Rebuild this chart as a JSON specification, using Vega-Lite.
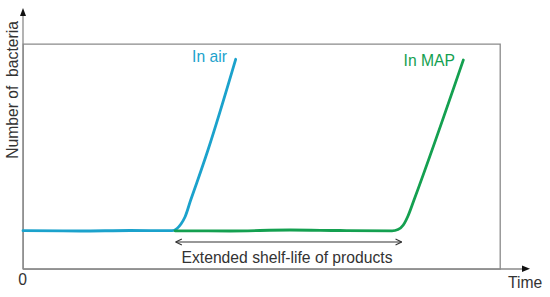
{
  "$schema": "https://vega.github.io/schema/vega-lite/v6.json",
  "width": 477,
  "height": 225,
  "autosize": {"type": "none"},
  "padding": {"left": 23, "top": 44, "right": 50, "bottom": 28},
  "background": "white",
  "config": {
    "view": {"stroke": "#8a8a8a", "strokeWidth": 1.3},
    "text": {"font": "Liberation Sans", "fontSize": 15.7}
  },
  "datasets": {
    "curves": [
      {"series": "In air", "i": 1, "t": 0, "b": 17.02},
      {"series": "In air", "i": 2, "t": 11.95, "b": 16.89},
      {"series": "In air", "i": 3, "t": 22.43, "b": 17.11},
      {"series": "In air", "i": 4, "t": 31.24, "b": 17.02},
      {"series": "In air", "i": 5, "t": 32.29, "b": 18.0},
      {"series": "In air", "i": 6, "t": 33.12, "b": 20.0},
      {"series": "In air", "i": 7, "t": 33.96, "b": 23.11},
      {"series": "In air", "i": 8, "t": 35.16, "b": 30.67},
      {"series": "In air", "i": 9, "t": 36.42, "b": 38.22},
      {"series": "In air", "i": 10, "t": 38.78, "b": 52.89},
      {"series": "In air", "i": 11, "t": 44.59, "b": 93.2},
      {"series": "In MAP", "i": 1, "t": 31.87, "b": 16.98},
      {"series": "In MAP", "i": 2, "t": 43.4, "b": 16.89},
      {"series": "In MAP", "i": 3, "t": 55.97, "b": 17.33},
      {"series": "In MAP", "i": 4, "t": 66.46, "b": 17.11},
      {"series": "In MAP", "i": 5, "t": 77.36, "b": 16.98},
      {"series": "In MAP", "i": 6, "t": 78.62, "b": 17.56},
      {"series": "In MAP", "i": 7, "t": 79.73, "b": 19.56},
      {"series": "In MAP", "i": 8, "t": 80.71, "b": 23.56},
      {"series": "In MAP", "i": 9, "t": 81.97, "b": 30.67},
      {"series": "In MAP", "i": 10, "t": 92.31, "b": 92.89}
    ]
  },
  "layer": [
    {
      "data": {"values": [
        {"t": 0, "b": 0, "t2": 0, "b2": 113.5},
        {"t": 0, "b": 0, "t2": 104.9, "b2": 0}
      ]},
      "mark": {"type": "rule", "color": "#8a8a8a", "strokeWidth": 1.3},
      "encoding": {
        "x": {"field": "t", "type": "quantitative", "scale": {"domain": [0, 100], "nice": false, "zero": false}, "axis": null},
        "y": {"field": "b", "type": "quantitative", "scale": {"domain": [0, 100], "nice": false, "zero": false}, "axis": null},
        "x2": {"field": "t2"},
        "y2": {"field": "b2"}
      }
    },
    {
      "data": {"values": [{"t": 0, "b": 114.2}]},
      "mark": {"type": "point", "shape": "M0,-1L0.75,1L-0.75,1Z", "size": 64, "filled": true, "color": "#111", "opacity": 1},
      "encoding": {
        "x": {"field": "t", "type": "quantitative"},
        "y": {"field": "b", "type": "quantitative"}
      }
    },
    {
      "data": {"values": [{"t": 105.45, "b": 0.1}]},
      "mark": {"type": "point", "shape": "M1,0L-1,-0.8L-1,0.8Z", "size": 64, "filled": true, "color": "#111", "opacity": 1},
      "encoding": {
        "x": {"field": "t", "type": "quantitative"},
        "y": {"field": "b", "type": "quantitative"}
      }
    },
    {
      "data": {"name": "curves"},
      "mark": {"type": "line", "interpolate": "monotone", "strokeWidth": 2.8, "strokeCap": "round"},
      "encoding": {
        "x": {"field": "t", "type": "quantitative"},
        "y": {"field": "b", "type": "quantitative"},
        "detail": {"field": "series"},
        "order": {"field": "i", "type": "quantitative"},
        "color": {"field": "series", "type": "nominal", "scale": {"domain": ["In air", "In MAP"], "range": ["#1ba2cc", "#14a050"]}, "legend": null}
      }
    },
    {
      "data": {"values": [
        {"t": 32.01, "b": 12.0, "t2": 79.39, "b2": 12.0},
        {"t": 32.01, "b": 12.0, "t2": 33.3, "b2": 13.35},
        {"t": 32.01, "b": 12.0, "t2": 33.3, "b2": 10.65},
        {"t": 79.39, "b": 12.0, "t2": 78.1, "b2": 13.35},
        {"t": 79.39, "b": 12.0, "t2": 78.1, "b2": 10.65}
      ]},
      "mark": {"type": "rule", "color": "#333", "strokeWidth": 1.1},
      "encoding": {
        "x": {"field": "t", "type": "quantitative"},
        "y": {"field": "b", "type": "quantitative"},
        "x2": {"field": "t2"},
        "y2": {"field": "b2"}
      }
    },
    {
      "data": {"values": [
        {"series": "In air", "t": 42.77, "b": 91.9},
        {"series": "In MAP", "t": 90.57, "b": 90.36}
      ]},
      "mark": {"type": "text", "align": "right", "baseline": "alphabetic"},
      "encoding": {
        "x": {"field": "t", "type": "quantitative"},
        "y": {"field": "b", "type": "quantitative"},
        "text": {"field": "series"},
        "color": {"field": "series", "type": "nominal", "scale": {"domain": ["In air", "In MAP"], "range": ["#1ba2cc", "#14a050"]}, "legend": null}
      }
    },
    {
      "data": {"values": [
        {"label": "Extended shelf-life of products", "t": 55.35, "b": 2.67},
        {"label": "0", "t": -0.1, "b": -7.11}
      ]},
      "mark": {"type": "text", "align": "center", "baseline": "alphabetic", "color": "#333"},
      "encoding": {
        "x": {"field": "t", "type": "quantitative"},
        "y": {"field": "b", "type": "quantitative"},
        "text": {"field": "label"}
      }
    },
    {
      "data": {"values": [{"label": "Time", "t": 101.68, "b": -8.31}]},
      "mark": {"type": "text", "align": "left", "baseline": "alphabetic", "color": "#333"},
      "encoding": {
        "x": {"field": "t", "type": "quantitative"},
        "y": {"field": "b", "type": "quantitative"},
        "text": {"field": "label"}
      }
    },
    {
      "data": {"values": [{"label": "Number of\u00a0 bacteria", "t": -1.15, "b": 79.56}]},
      "mark": {"type": "text", "align": "center", "baseline": "alphabetic", "angle": 270, "color": "#333"},
      "encoding": {
        "x": {"field": "t", "type": "quantitative"},
        "y": {"field": "b", "type": "quantitative"},
        "text": {"field": "label"}
      }
    }
  ]
}
